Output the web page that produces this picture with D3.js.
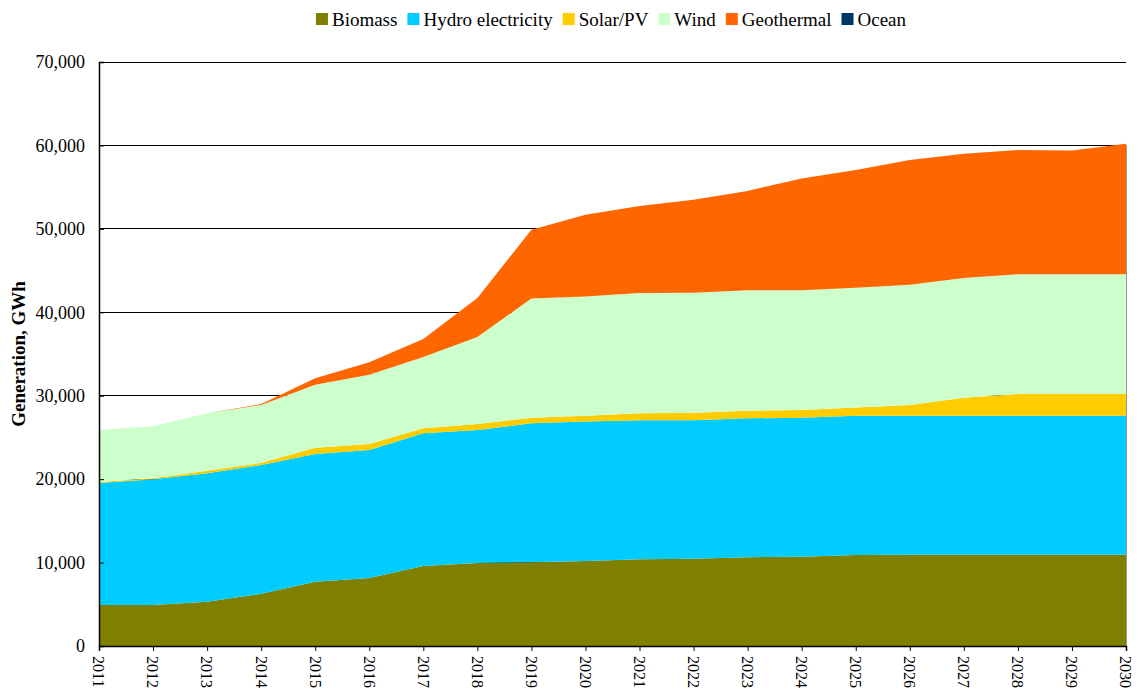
<!DOCTYPE html>
<html>
<head>
<meta charset="utf-8">
<script src="https://cdn.jsdelivr.net/npm/d3@7"></script>
<style>
  body { margin: 0; background: #fff; }
  svg text { font-family: "Liberation Serif", "DejaVu Serif", serif; fill: #000; }
</style>
</head>
<body>
<div id="chart"></div>
<script>
// Renewable generation by source, GWh

let years = d3.range(2011, 2031);
let seriesNames = ["Biomass", "Hydro electricity", "Solar/PV", "Wind", "Geothermal", "Ocean"];
let colors = ["#808000", "#00ccff", "#ffcc00", "#ccffcc", "#ff6600", "#003366"];

let biomass    = [4900, 4900, 5300, 6250, 7700, 8150, 9600, 9950, 10050, 10200, 10400, 10450, 10650, 10700, 10900, 10950, 10950, 10950, 10950, 10950];
let hydro      = [14650, 15100, 15400, 15450, 15300, 15350, 15900, 15950, 16650, 16700, 16650, 16600, 16650, 16650, 16700, 16650, 16650, 16650, 16650, 16650];
let solar      = [100, 100, 300, 250, 750, 700, 600, 700, 650, 700, 850, 900, 900, 950, 1000, 1300, 2150, 2600, 2600, 2600];
let wind       = [6250, 6250, 6900, 6950, 7550, 8300, 8550, 10450, 14300, 14300, 14400, 14400, 14450, 14350, 14350, 14400, 14350, 14350, 14350, 14350];
let geothermal = [0, 0, 0, 100, 800, 1500, 2150, 4650, 8250, 9800, 10450, 11150, 11900, 13400, 14100, 14950, 14900, 14900, 14850, 15650];
let ocean      = [0, 0, 0, 0, 0, 0, 0, 0, 0, 0, 0, 0, 0, 0, 0, 0, 0, 0, 0, 0];

let yTicks = [0, 10000, 20000, 30000, 40000, 50000, 60000, 70000];

let drawChart = function(){
    let width = 1146, height = 695;
    let margin = {top: 62, right: 20, bottom: 49, left: 99};
    let w = width - margin.left - margin.right;
    let h = height - margin.top - margin.bottom;

    let columns = [biomass, hydro, solar, wind, geothermal, ocean];
    let table = years.map(function(y, i){
        let row = {year: y};
        seriesNames.forEach(function(name, k){ row[name] = columns[k][i]; });
        return row;
    });

    let stacked = d3.stack().keys(seriesNames)(table);

    let x = d3.scaleLinear().domain([2011, 2030]).range([0, w]);
    let y = d3.scaleLinear().domain([0, 70000]).range([h, 0]);

    let svg = d3.select("#chart").append("svg")
        .attr("width", width)
        .attr("height", height)
      .append("g")
        .attr("transform", "translate(" + margin.left + "," + margin.top + ")");

    // gridlines behind the areas
    svg.append("g")
        .selectAll("line")
        .data(yTicks)
        .enter().append("line")
        .attr("x1", 0).attr("x2", w)
        .attr("y1", function(d){ return y(d); })
        .attr("y2", function(d){ return y(d); })
        .attr("stroke", "#000")
        .attr("stroke-width", 1)
        .attr("shape-rendering", "crispEdges");

    let area = d3.area()
        .x(function(d){ return x(d.data.year); })
        .y0(function(d){ return y(d[0]); })
        .y1(function(d){ return y(d[1]); });

    svg.append("g")
        .selectAll("path")
        .data(stacked)
        .enter().append("path")
        .attr("d", area)
        .attr("fill", function(d, i){ return colors[i]; });

    // right border
    svg.append("line")
        .attr("x1", w).attr("x2", w).attr("y1", y(60000)).attr("y2", h)
        .attr("stroke", "#999").attr("stroke-width", 1)
        .attr("shape-rendering", "crispEdges");

    // y axis, ticks pointing inward
    let yAxis = svg.append("g")
        .call(d3.axisRight(y).tickValues(yTicks).tickSize(5).tickFormat(""));
    yAxis.select(".domain").attr("stroke", "#000").attr("stroke-width", 1.5);
    yAxis.selectAll(".tick line").attr("stroke", "#000");

    svg.append("g")
        .selectAll("text")
        .data(yTicks)
        .enter().append("text")
        .attr("x", -14)
        .attr("y", function(d){ return y(d); })
        .attr("dy", "0.35em")
        .attr("text-anchor", "end")
        .style("font-size", "18px")
        .text(d3.format(","));

    // x axis
    let xAxis = svg.append("g")
        .attr("transform", "translate(0," + h + ")")
        .call(d3.axisBottom(x).tickValues(years).tickSize(5).tickFormat(""));
    xAxis.select(".domain").attr("stroke", "#000").attr("stroke-width", 1.5);
    xAxis.selectAll(".tick line").attr("stroke", "#000");

    svg.append("g")
        .selectAll("text")
        .data(years)
        .enter().append("text")
        .attr("transform", function(d){ return "translate(" + x(d) + "," + (h + 10) + ") rotate(90)"; })
        .attr("dy", "0.35em")
        .attr("text-anchor", "start")
        .style("font-size", "16px")
        .text(function(d){ return d; });

    // y axis title
    svg.append("text")
        .attr("transform", "translate(" + (-81) + "," + (h / 2) + ") rotate(-90)")
        .attr("text-anchor", "middle")
        .attr("dy", "0.35em")
        .style("font-size", "19px")
        .style("font-weight", "bold")
        .text("Generation, GWh");

    // legend
    let legend = d3.select("#chart svg").append("g");
    let xPos = 0;
    seriesNames.forEach(function(name, i){
        let g = legend.append("g");
        g.append("rect")
            .attr("x", 0).attr("y", -6)
            .attr("width", 12).attr("height", 12)
            .attr("fill", colors[i]);
        let t = g.append("text")
            .attr("x", 16).attr("y", 0)
            .attr("dy", "0.35em")
            .style("font-size", "19px")
            .text(name);
        let tw = t.node().getComputedTextLength();
        g.attr("transform", "translate(" + xPos + ",0)");
        xPos += 16 + tw + 10;
    });
    let totalW = xPos - 10;
    legend.attr("transform", "translate(" + (611 - totalW / 2) + ",19)");
};

drawChart();
</script>
</body>
</html>
